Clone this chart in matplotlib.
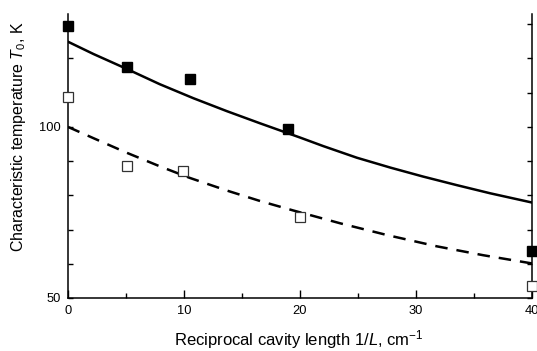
import numpy as np
import matplotlib
matplotlib.use("Agg")
import matplotlib.pyplot as plt
from matplotlib.ticker import MultipleLocator, FixedLocator

# measured points (filled / open squares)
filled_x = [0, 5.1, 10.5, 19.0, 40]
filled_y = [129.5, 117.5, 114.0, 99.4, 63.8]
open_x = [0, 5.1, 9.9, 20.0, 40]
open_y = [108.8, 88.6, 87.1, 73.7, 53.6]

# fitted curves, points
solid_x = [0, 2.2, 5.1, 7.9, 10.8, 13.7, 16.6, 20.0, 22.0, 24.9, 27.8, 30.6, 33.5, 36.4, 40]
solid_y = [124.9, 121.3, 116.9, 112.5, 108.4, 104.6, 101.0, 96.9, 94.4, 91.0, 88.1, 85.5, 83.0, 80.6, 77.9]
dash_x = [0, 2.2, 5.1, 7.9, 10.5, 13.7, 16.6, 19.4, 23.5, 27.5, 31.8, 35.8, 40]
dash_y = [100.0, 96.7, 92.4, 88.5, 85.1, 81.4, 78.3, 75.6, 71.8, 68.4, 65.1, 62.5, 60.1]

plt.rcParams["font.family"] = ["Liberation Sans", "DejaVu Sans"]
plt.rcParams["mathtext.fontset"] = "custom"
plt.rcParams["mathtext.rm"] = "Liberation Sans"
plt.rcParams["mathtext.it"] = "Liberation Sans:italic"

fig = plt.figure(figsize=(5.37, 3.51), dpi=100)
ax = fig.add_axes([68/537, 1-298/351, (532-68)/537, (298-14)/351])

ax.plot(solid_x, solid_y, color="black", lw=1.8, solid_joinstyle="round")
ax.plot(dash_x, dash_y, color="black", lw=1.8, dashes=(5, 3.6))
ax.plot(filled_x, filled_y, ls="none", marker="s", ms=7.5, mfc="black",
        mec="black", clip_on=False, zorder=5)
ax.plot(open_x, open_y, ls="none", marker="s", ms=7, mfc="white",
        mec="#333333", mew=0.9, clip_on=False, zorder=5)

ax.set_xlim(0, 40)
ax.set_ylim(50, 133)
ax.xaxis.set_major_locator(MultipleLocator(10))
ax.xaxis.set_minor_locator(MultipleLocator(5))
ax.yaxis.set_major_locator(FixedLocator([50, 100]))
ax.yaxis.set_minor_locator(FixedLocator([60, 70, 80, 90, 110, 120, 130]))

ax.spines["top"].set_visible(False)
for s in ("left", "bottom", "right"):
    ax.spines[s].set_linewidth(1.1)

ax.tick_params(axis="both", which="both", direction="in", labelsize=9.3,
               width=1.0, pad=5)
ax.tick_params(axis="x", which="major", length=6)
ax.tick_params(axis="x", which="minor", length=3.5)
ax.tick_params(axis="y", which="both", length=3.5, right=True)

ax.set_xlabel(r"Reciprocal cavity length 1/$L$, cm$^{-1}$", fontsize=12)
ax.set_ylabel(r"Characteristic temperature $T_0$, K", fontsize=11.5)
ax.xaxis.set_label_coords(0.498, -0.105)
ax.yaxis.set_label_coords(-0.086, 0.567)

fig.savefig("out.png", dpi=100)
